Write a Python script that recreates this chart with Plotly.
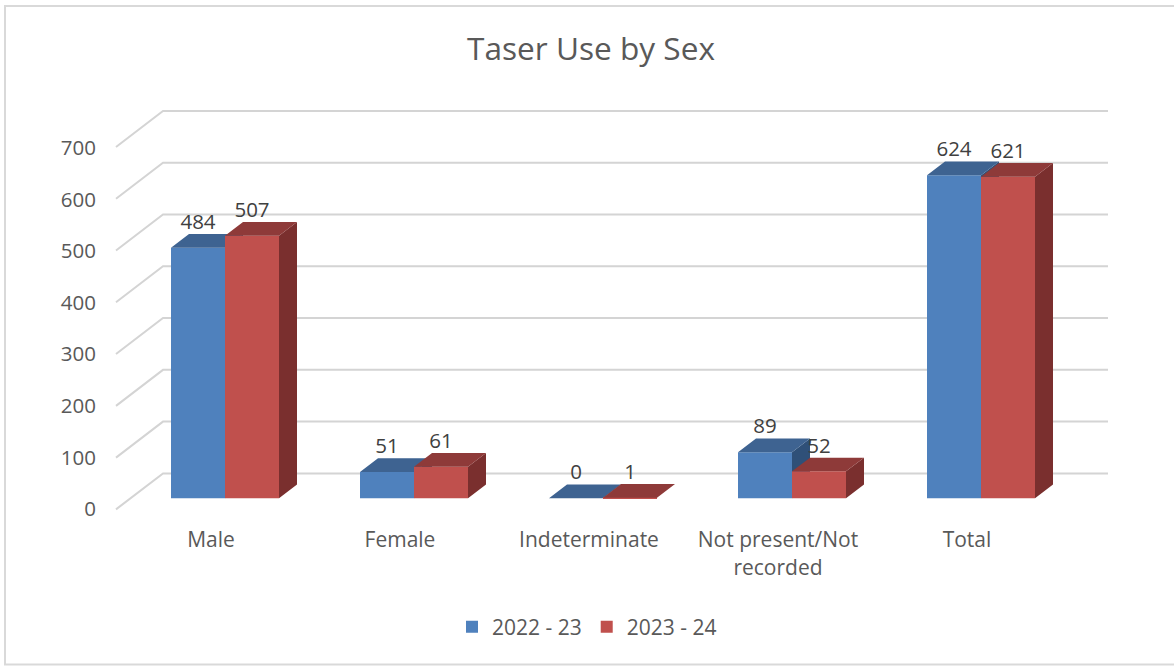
import plotly.graph_objects as go

# ---------- data ----------
categories = ["Male", "Female", "Indeterminate", "Not present/Not<br>recorded", "Total"]
series_names = ["2022 - 23", "2023 - 24"]
values_2022 = [484, 51, 0, 89, 624]
values_2023 = [507, 61, 1, 52, 621]
y_ticks = [0, 100, 200, 300, 400, 500, 600, 700]

# ---------- pixel calibration of the 3-D look ----------
W, H = 1174, 669
PL, PR, PT, PB = 115, 1110, 100, 520          # plot box in page pixels
X0_PX, CAT_PX = 225.0, 189.0                  # first category centre, spacing
Y0_PX, UNIT_PX = 498.3, 0.5178                # base of the bars, px per unit
BAR = 54.0 / CAT_PX                           # one bar width, category units
DX = 18.0 / CAT_PX                            # depth, x
DY = 13.7 / UNIT_PX                           # depth, y
WALL_L = (163 - X0_PX) / CAT_PX
WALL_R = (1108 - X0_PX) / CAT_PX
WALL_DX = -47.0 / CAT_PX
WALL_DY = -36.0 / UNIT_PX
WALL_BASE = (Y0_PX - 473.4) / UNIT_PX         # value-0 level of the back wall
LABEL_SHIFT, LABEL_SCALE = -20.7, 0.996       # y tick labels sit on the front edge
CAT_LABEL_SHIFT = -14.0 / CAT_PX

xr = [(PL - X0_PX) / CAT_PX, (PR - X0_PX) / CAT_PX]
yr = [(Y0_PX - PB) / UNIT_PX, (Y0_PX - PT) / UNIT_PX]
idx = list(range(len(categories)))

FONT = "Open Sans"
BLUE, BLUE_TOP, BLUE_SIDE = "#4F81BD", "#3E6391", "#2F5078"
RED, RED_TOP, RED_SIDE = "#C0504D", "#8E3A39", "#7A2F2E"


def faces(vals, left_edge):
    """Top and side polygons of each bar, in data coordinates."""
    tx, ty, sx, sy = [], [], [], []
    for i, v in zip(idx, vals):
        a = i + left_edge
        b = a + BAR
        tx += [a, b, b + DX, a + DX, a, None]
        ty += [v, v, v + DY, v + DY, v, None]
        sx += [b, b + DX, b + DX, b, b, None]
        sy += [0, DY, v + DY, v, 0, None]
    return tx, ty, sx, sy


def poly(x, y, color, xa, ya):
    return go.Scatter(x=x, y=y, mode="lines", fill="toself", fillcolor=color,
                      line=dict(width=0, color=color), hoverinfo="skip",
                      showlegend=False, xaxis=xa, yaxis=ya)


fig = go.Figure()

# 2022-23 sits on the base axes, 2023-24 on an overlay so it hides the former
fig.add_trace(go.Bar(x=idx, y=values_2022, name=series_names[0], marker_color=BLUE,
                     marker_line_width=0, width=BAR, offset=-BAR, xaxis="x", yaxis="y"))
tx, ty, sx, sy = faces(values_2022, -BAR)
fig.add_trace(poly(sx, sy, BLUE_SIDE, "x", "y"))
fig.add_trace(poly(tx, ty, BLUE_TOP, "x", "y"))

fig.add_trace(go.Bar(x=idx, y=values_2023, name=series_names[1], marker_color=RED,
                     marker_line_width=0, width=BAR, offset=0, xaxis="x2", yaxis="y2"))
tx, ty, sx, sy = faces(values_2023, 0)
fig.add_trace(poly(sx, sy, RED_SIDE, "x2", "y2"))
fig.add_trace(poly(tx, ty, RED_TOP, "x2", "y2"))

# data labels, above the top face
fig.add_trace(go.Scatter(
    x=[i - BAR / 2 for i in idx] + [i + BAR / 2 for i in idx],
    y=[v + DY for v in values_2022] + [v + DY for v in values_2023],
    text=[str(v) for v in values_2022 + values_2023],
    mode="text", textposition="top center", cliponaxis=False,
    textfont=dict(family=FONT, size=20.5, color="#404040"),
    hoverinfo="skip", showlegend=False, xaxis="x2", yaxis="y2"))

# walls: one shape per gridline, under every trace
for t in y_ticks:
    yb = WALL_BASE + t
    path = (f"M {WALL_L + WALL_DX} {yb + WALL_DY} L {WALL_L} {yb} L {WALL_R} {yb}")
    fig.add_shape(type="path", path=path, xref="x", yref="y", layer="below",
                  line=dict(color="#D4D4D4", width=2))

# chart-area border: open on the right, where the picture is cropped
bx0, bx1 = (5 - PL) / (PR - PL), (W - PL) / (PR - PL)
by0, by1 = (PB - 664.5) / (PB - PT), (PB - 6) / (PB - PT)
fig.add_shape(type="path", xref="paper", yref="paper", layer="below",
              path=f"M {bx1} {by1} L {bx0} {by1} L {bx0} {by0} L {bx1} {by0}",
              line=dict(color="#D9D9D9", width=2))

hidden = dict(range=xr, visible=False, fixedrange=True)
fig.update_layout(
    width=W, height=H,
    margin=dict(l=PL, r=W - PR, t=PT, b=H - PB, pad=0),
    paper_bgcolor="white", plot_bgcolor="rgba(0,0,0,0)",
    barmode="overlay",
    title=dict(text="Taser Use by Sex", x=591 / W, y=1 - 49 / H, xanchor="center", yanchor="middle",
               xref="container", yref="container",
               font=dict(family=FONT, size=31.6, color="#595959")),
    xaxis=dict(range=xr, tickmode="array", tickvals=[i + CAT_LABEL_SHIFT for i in idx],
               ticktext=categories, showgrid=False, zeroline=False, showline=False,
               ticks="outside", ticklen=1, tickcolor="rgba(0,0,0,0)", tickangle=0,
               tickfont=dict(family=FONT, size=21, color="#595959"), fixedrange=True),
    yaxis=dict(range=yr, tickmode="array",
               tickvals=[t * LABEL_SCALE + LABEL_SHIFT for t in y_ticks],
               ticktext=[str(t) for t in y_ticks], showgrid=False, zeroline=False, showline=False,
               ticks="outside", ticklen=14, tickcolor="rgba(0,0,0,0)",
               tickfont=dict(family=FONT, size=20.5, color="#595959"), fixedrange=True),
    xaxis2=dict(overlaying="x", **hidden),
    yaxis2=dict(overlaying="y", range=yr, visible=False, fixedrange=True),
    legend=dict(orientation="h", x=587 / W, y=1 - 627 / H, xref="container", yref="container",
                xanchor="center", yanchor="middle",
                font=dict(family=FONT, size=21, color="#595959"), itemwidth=30),
)

fig.write_html("out.html", config={"displayModeBar": False},
               post_script="document.body.style.margin='0';")
